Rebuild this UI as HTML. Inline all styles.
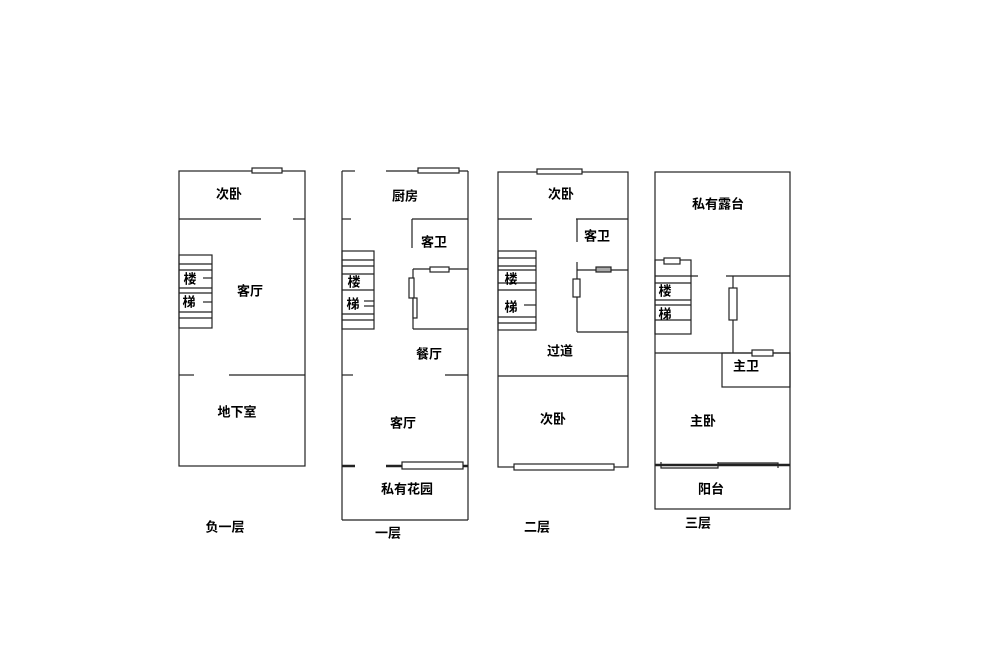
<!DOCTYPE html>
<html><head><meta charset="utf-8"><style>
body{margin:0;background:#fff}
svg text{font-family:"Liberation Sans","Noto Sans CJK SC",sans-serif;font-size:13px;font-weight:bold;fill:#000;text-anchor:middle;dominant-baseline:middle}
</style></head><body>
<svg width="1000" height="655" viewBox="0 0 1000 655" xmlns="http://www.w3.org/2000/svg">
<g stroke="#222" stroke-width="1.2" fill="none">
<!-- B1 -->
<rect x="179" y="171" width="126" height="295"/>
<rect x="252" y="168" width="30" height="5" fill="#fff"/>
<line x1="179" y1="219" x2="261" y2="219"/><line x1="293" y1="219" x2="305" y2="219"/>
<rect x="179" y="255" width="33" height="73"/>
<line x1="179" y1="264" x2="212" y2="264"/><line x1="179" y1="270" x2="212" y2="270"/>
<line x1="203" y1="278" x2="212" y2="278"/><line x1="179" y1="288" x2="212" y2="288"/>
<line x1="179" y1="293" x2="212" y2="293"/><line x1="203" y1="302" x2="212" y2="302"/>
<line x1="179" y1="312" x2="212" y2="312"/><line x1="179" y1="318" x2="212" y2="318"/>
<line x1="179" y1="375" x2="194" y2="375"/><line x1="229" y1="375" x2="305" y2="375"/>
<!-- F1 -->
<line x1="342" y1="171" x2="342" y2="520"/><line x1="468" y1="171" x2="468" y2="520"/>
<line x1="342" y1="520" x2="468" y2="520"/>
<line x1="342" y1="171" x2="355" y2="171"/><line x1="386" y1="171" x2="468" y2="171"/>
<rect x="418" y="168" width="41" height="5" fill="#fff"/>
<line x1="342" y1="219" x2="351" y2="219"/><line x1="412" y1="219" x2="468" y2="219"/>
<line x1="412" y1="219" x2="412" y2="248"/>
<line x1="413" y1="269" x2="468" y2="269"/>
<rect x="430" y="267" width="19" height="5" fill="#fff"/>
<line x1="413" y1="269" x2="413" y2="329"/><line x1="413" y1="329" x2="468" y2="329"/>
<rect x="409" y="278" width="5" height="20" fill="#fff"/><rect x="413" y="298" width="4" height="20" fill="#fff"/>
<rect x="342" y="251" width="32" height="78"/>
<line x1="342" y1="260" x2="374" y2="260"/><line x1="342" y1="266" x2="374" y2="266"/>
<line x1="342" y1="274" x2="374" y2="274"/><line x1="342" y1="290" x2="374" y2="290"/>
<line x1="364" y1="301" x2="374" y2="301"/><line x1="364" y1="306" x2="374" y2="306"/>
<line x1="342" y1="314" x2="374" y2="314"/><line x1="342" y1="320" x2="374" y2="320"/>
<line x1="342" y1="375" x2="353" y2="375"/><line x1="445" y1="375" x2="468" y2="375"/>
<line x1="342" y1="466" x2="355" y2="466" stroke-width="2.5"/><line x1="386" y1="466" x2="468" y2="466" stroke-width="2.5"/>
<rect x="402" y="462" width="61" height="7" fill="#fff"/>
<!-- F2 -->
<rect x="498" y="172" width="130" height="295"/>
<rect x="537" y="169" width="45" height="5" fill="#fff"/>
<line x1="498" y1="219" x2="532" y2="219"/><line x1="576" y1="219" x2="628" y2="219"/>
<line x1="577" y1="219" x2="577" y2="242"/>
<line x1="577" y1="270" x2="628" y2="270"/>
<rect x="596" y="267" width="15" height="5" fill="#aaa"/>
<line x1="577" y1="262" x2="577" y2="332"/><line x1="577" y1="332" x2="628" y2="332"/>
<rect x="573" y="279" width="7" height="18" fill="#fff"/>
<rect x="498" y="251" width="38" height="79"/>
<line x1="498" y1="258" x2="536" y2="258"/><line x1="498" y1="266" x2="536" y2="266"/>
<line x1="498" y1="270" x2="536" y2="270"/><line x1="498" y1="283" x2="536" y2="283"/>
<line x1="498" y1="290" x2="536" y2="290"/><line x1="524" y1="305" x2="536" y2="305"/>
<line x1="498" y1="317" x2="536" y2="317"/><line x1="498" y1="323" x2="536" y2="323"/>
<line x1="498" y1="376" x2="628" y2="376"/>
<rect x="514" y="464" width="100" height="6" fill="#fff"/>
<!-- F3 -->
<rect x="655" y="172" width="135" height="337"/>
<rect x="655" y="260" width="36" height="74"/>
<rect x="664" y="258" width="16" height="6" fill="#fff"/>
<line x1="655" y1="276" x2="698" y2="276"/><line x1="726" y1="276" x2="790" y2="276"/>
<line x1="655" y1="283" x2="691" y2="283"/><line x1="655" y1="300" x2="691" y2="300"/>
<line x1="655" y1="305" x2="691" y2="305"/><line x1="655" y1="320" x2="691" y2="320"/>
<line x1="733" y1="276" x2="733" y2="353"/>
<rect x="729" y="288" width="8" height="32" fill="#fff"/>
<line x1="655" y1="353" x2="790" y2="353"/>
<rect x="722" y="353" width="68" height="34"/>
<rect x="752" y="350" width="21" height="6" fill="#fff"/>
<line x1="655" y1="465" x2="790" y2="465" stroke-width="2.5"/>
<polyline points="661,462 661,468 718,468 718,462"/>
<polyline points="718,463 778,463 778,468"/>
</g>
<text x="229" y="195">次卧</text><text x="250" y="292">客厅</text><text x="237" y="413">地下室</text>
<text x="190" y="280">楼</text><text x="189" y="303">梯</text><text x="225" y="528">负一层</text>
<text x="405" y="197">厨房</text><text x="434" y="243">客卫</text><text x="429" y="355">餐厅</text>
<text x="403" y="424">客厅</text><text x="407" y="490">私有花园</text><text x="388" y="534">一层</text>
<text x="354" y="283">楼</text><text x="353" y="305">梯</text>
<text x="561" y="195">次卧</text><text x="597" y="237">客卫</text><text x="560" y="352">过道</text>
<text x="553" y="420">次卧</text><text x="537" y="528">二层</text>
<text x="511" y="280">楼</text><text x="511" y="308">梯</text>
<text x="718" y="205">私有露台</text><text x="746" y="367">主卫</text><text x="703" y="422">主卧</text>
<text x="711" y="490">阳台</text><text x="698" y="524">三层</text>
<text x="665" y="292">楼</text><text x="665" y="315">梯</text>
</svg>
</body></html>
